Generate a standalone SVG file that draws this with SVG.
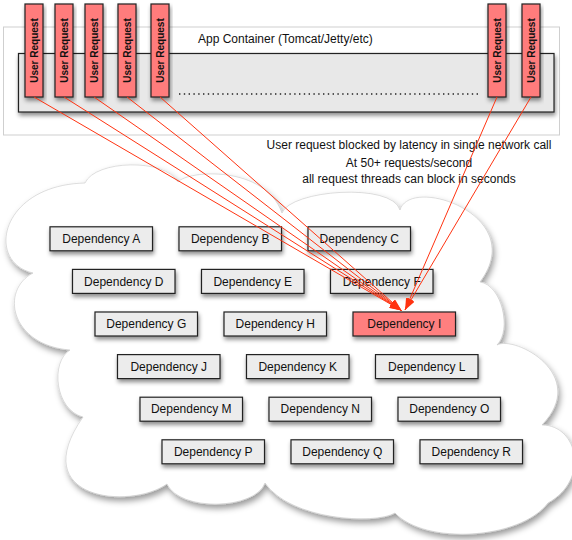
<svg xmlns="http://www.w3.org/2000/svg" width="572" height="540" viewBox="0 0 572 540">
<defs>
<style>
.dep rect{fill:#ececec;stroke:#222;stroke-width:1.2;filter:url(#sh)}
.dep.hot rect{fill:#ff7f7f}
.dep text{font-family:"Liberation Sans",Arial,sans-serif;font-size:12px;fill:#111;text-anchor:middle}
.ur rect{fill:#ff7b7b;stroke:#222;stroke-width:1.2;filter:url(#sh)}
.ur text{font-family:"Liberation Sans",Arial,sans-serif;font-size:10px;font-weight:bold;fill:#111;text-anchor:middle}
.lbl{font-family:"Liberation Sans",Arial,sans-serif;font-size:12px;fill:#111}
.conn line{stroke:#ff3311;stroke-width:1;marker-end:url(#ah)}
</style>
<filter id="sh" x="-20%" y="-20%" width="140%" height="160%">
<feDropShadow dx="1" dy="3" stdDeviation="2" flood-color="#000" flood-opacity="0.45"/>
</filter>
<filter id="csh" x="-10%" y="-10%" width="120%" height="125%">
<feDropShadow dx="2" dy="4" stdDeviation="3" flood-color="#000" flood-opacity="0.4"/>
</filter>
<marker id="ah" viewBox="0 0 12 8" refX="12" refY="4" markerWidth="12" markerHeight="8" markerUnits="userSpaceOnUse" orient="auto">
<path d="M0,0 L12,4 L0,8 z" fill="#ff3311"/>
</marker>
</defs>
<rect width="572" height="540" fill="#fff"/>

<g id="app-container">
<rect x="3.5" y="27" width="556" height="108" fill="#fff" stroke="#cfcfcf" stroke-width="1"/>
<rect x="18.5" y="53.5" width="535.5" height="58.5" fill="#e8e8e8" stroke="#222" stroke-width="1.2" filter="url(#sh)"/>
<text class="lbl" x="198" y="43">App Container (Tomcat/Jetty/etc)</text>
<line x1="179" y1="94" x2="478" y2="94" stroke="#222" stroke-width="1.6" stroke-dasharray="1.4 3.4"/>
</g>

<g id="ur1" class="ur"><rect x="25" y="4" width="18" height="93"/><text transform="translate(34,50.5) rotate(-90)" y="3.6">User Request</text></g>
<g id="ur2" class="ur"><rect x="55" y="4" width="18" height="93"/><text transform="translate(64,50.5) rotate(-90)" y="3.6">User Request</text></g>
<g id="ur3" class="ur"><rect x="85" y="4" width="18" height="93"/><text transform="translate(94,50.5) rotate(-90)" y="3.6">User Request</text></g>
<g id="ur4" class="ur"><rect x="118" y="4" width="18" height="93"/><text transform="translate(127,50.5) rotate(-90)" y="3.6">User Request</text></g>
<g id="ur5" class="ur"><rect x="151" y="4" width="18" height="93"/><text transform="translate(160,50.5) rotate(-90)" y="3.6">User Request</text></g>
<g id="ur6" class="ur"><rect x="488" y="4" width="18" height="93"/><text transform="translate(497,50.5) rotate(-90)" y="3.6">User Request</text></g>
<g id="ur7" class="ur"><rect x="522" y="4" width="18" height="93"/><text transform="translate(531,50.5) rotate(-90)" y="3.6">User Request</text></g>

<g id="notes">
<text class="lbl" x="409" y="149" text-anchor="middle">User request blocked by latency in single network call</text>
<text class="lbl" x="409" y="167" text-anchor="middle">At 50+ requests/second</text>
<text class="lbl" x="409" y="183" text-anchor="middle">all request threads can block in seconds</text>
</g>

<g id="cloud">
<path d="M85,183 C95,160 165,158 178,182 C188,170 265,165 282,213 C290,190 392,182 400,210 C410,175 530,215 480,282 C502,285 512,330 497,345 C515,335 590,375 542,425 C578,425 590,480 548,503 C520,540 425,545 395,513 C375,525 290,520 265,483 C255,510 180,512 167,484 C130,510 25,500 83,417 C55,410 50,362 70,350 C10,345 0,290 33,273 C-15,262 0,185 85,183 Z" fill="#fff" stroke="#c8c8c8" stroke-width="0.6" filter="url(#csh)"/>
</g>

<g id="depA" class="dep"><rect x="50" y="226.8" width="102.5" height="24"/><text x="101.25" y="243">Dependency A</text></g>
<g id="depB" class="dep"><rect x="179" y="226.8" width="102.5" height="24"/><text x="230.25" y="243">Dependency B</text></g>
<g id="depC" class="dep"><rect x="308" y="226.8" width="102.5" height="24"/><text x="359.25" y="243">Dependency C</text></g>
<g id="depD" class="dep"><rect x="72.5" y="269.4" width="102.5" height="24"/><text x="123.75" y="285.6">Dependency D</text></g>
<g id="depE" class="dep"><rect x="201.5" y="269.4" width="102.5" height="24"/><text x="252.75" y="285.6">Dependency E</text></g>
<g id="depF" class="dep"><rect x="330.5" y="269.4" width="102.5" height="24"/><text x="381.75" y="285.6">Dependency F</text></g>
<g id="depG" class="dep"><rect x="95" y="312" width="102.5" height="24"/><text x="146.25" y="328.2">Dependency G</text></g>
<g id="depH" class="dep"><rect x="224" y="312" width="102.5" height="24"/><text x="275.25" y="328.2">Dependency H</text></g>
<g id="depI" class="dep hot"><rect x="353" y="312" width="102.5" height="24"/><text x="404.25" y="328.2">Dependency I</text></g>
<g id="depJ" class="dep"><rect x="117.5" y="354.6" width="102.5" height="24"/><text x="168.75" y="370.8">Dependency J</text></g>
<g id="depK" class="dep"><rect x="246.5" y="354.6" width="102.5" height="24"/><text x="297.75" y="370.8">Dependency K</text></g>
<g id="depL" class="dep"><rect x="375.5" y="354.6" width="102.5" height="24"/><text x="426.75" y="370.8">Dependency L</text></g>
<g id="depM" class="dep"><rect x="140" y="397.2" width="102.5" height="24"/><text x="191.25" y="413.4">Dependency M</text></g>
<g id="depN" class="dep"><rect x="269" y="397.2" width="102.5" height="24"/><text x="320.25" y="413.4">Dependency N</text></g>
<g id="depO" class="dep"><rect x="398" y="397.2" width="102.5" height="24"/><text x="449.25" y="413.4">Dependency O</text></g>
<g id="depP" class="dep"><rect x="162" y="439.8" width="102.5" height="24"/><text x="213.25" y="456">Dependency P</text></g>
<g id="depQ" class="dep"><rect x="291" y="439.8" width="102.5" height="24"/><text x="342.25" y="456">Dependency Q</text></g>
<g id="depR" class="dep"><rect x="420" y="439.8" width="102.5" height="24"/><text x="471.25" y="456">Dependency R</text></g>

<g id="connectors" class="conn">
<line x1="34" y1="97" x2="401.5" y2="310.5"/>
<line x1="64" y1="97" x2="401.5" y2="310.5"/>
<line x1="94" y1="97" x2="401.5" y2="310.5"/>
<line x1="127" y1="97" x2="401.5" y2="310.5"/>
<line x1="160" y1="97" x2="401.5" y2="310.5"/>
<line x1="497" y1="97" x2="405" y2="310"/>
<line x1="531" y1="97" x2="405" y2="310"/>
</g>
</svg>
